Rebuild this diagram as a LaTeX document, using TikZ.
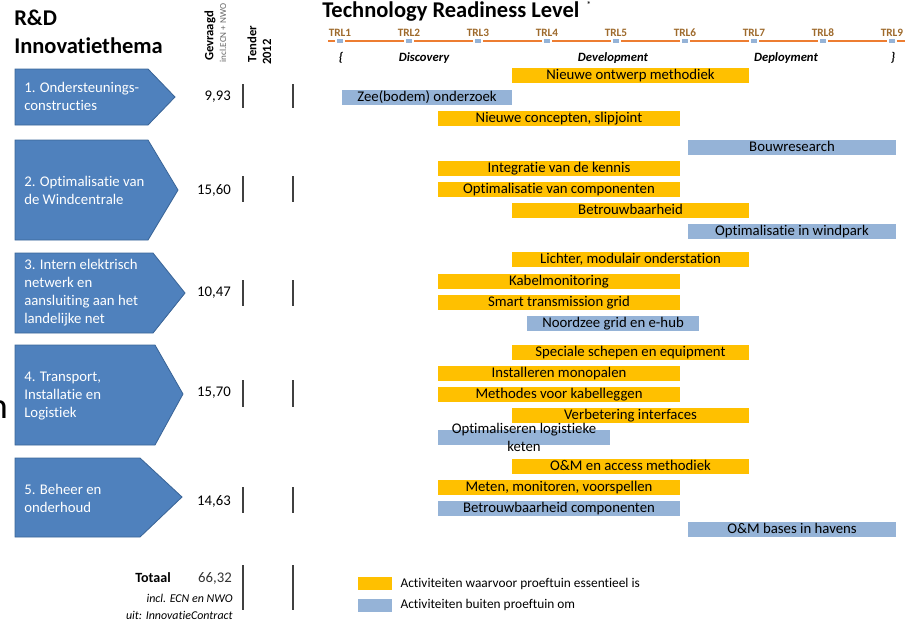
\documentclass[tikz,border=0pt]{standalone}
\usepackage{fontspec}
\setmainfont{Carlito}[Ligatures=NoCommon]
\usetikzlibrary{positioning}

\definecolor{geel}{HTML}{FFC000}
\definecolor{lichtblauw}{HTML}{95B3D7}
\definecolor{pijlblauw}{HTML}{4F81BD}
\definecolor{pijlrand}{HTML}{3A6598}
\definecolor{trloranje}{HTML}{ED7D31}
\definecolor{trltekst}{HTML}{9E6A2C}

\begin{document}
\begin{tikzpicture}[x=0.025cm,y=-0.025cm,
    balk/.style={minimum height=15*0.025cm, minimum width=#1*0.025cm, inner sep=0pt, text height=1.5ex, text depth=0.3ex, font=\fontsize{10.5}{12}\selectfont},
    geelbalk/.style={balk=#1, fill=geel},
    blauwbalk/.style={balk=#1, fill=lichtblauw},
    thema/.style={fill=pijlblauw, draw=pijlrand, line width=0.6pt},
    thematekst/.style={anchor=west, align=left, text=white, inner sep=0pt, font=\fontsize{10.5}{12.8}\selectfont},
    bedrag/.style={anchor=east, inner sep=0pt, font=\fontsize{10.5}{12}\selectfont},
    streep/.style={draw=black!75, line width=0.9pt},
    trl/.style={text=trltekst, inner sep=0pt, font=\fontsize{8}{9}\selectfont\bfseries},
    fase/.style={inner sep=0pt, font=\fontsize{9}{10}\selectfont\itshape\bfseries},
    legblok/.style={minimum width=34*0.025cm, minimum height=13*0.025cm, inner sep=0pt},
    legtekst/.style={anchor=west, inner sep=0pt, font=\fontsize{9.5}{11}\selectfont}]

    \useasboundingbox (0,0) rectangle (911,620);

    % koppen
    \node[anchor=west, align=left, inner sep=0pt, font=\fontsize{16}{20}\selectfont\bfseries] (kop) at (14,32) {R\&D\\Innovatiethema};
    \node[rotate=90, inner sep=0pt, font=\fontsize{9}{10}\selectfont\bfseries] (gevraagd) at (210,36) {Gevraagd};
    \node[rotate=90, inner sep=0pt, text=black!60, font=\fontsize{6.5}{7}\selectfont] (incl) at (223,33) {incl.ECN + NWO};
    \node[rotate=90, inner sep=0pt, font=\fontsize{9}{10}\selectfont\bfseries] (tender) at (252,44) {Tender};
    \node[rotate=90, inner sep=0pt, font=\fontsize{9}{10}\selectfont\bfseries] (jaar) at (267,52) {2012};
    \node[anchor=west, inner sep=0pt, font=\fontsize{16}{18}\selectfont\bfseries] (trlkop) at (322,12) {Technology Readiness Level};
    \node[anchor=west, inner sep=0pt, font=\fontsize{7}{8}\selectfont] (ster) at (586,5) {*};
    \node[anchor=base east, inner sep=0pt, font=\fontsize{26}{28}\selectfont] (losn) at (8,418) {n};

    % TRL-as
    \draw[trloranje, line width=1.4pt] (328,41) -- (905,41);
    \foreach \i in {1,...,9} {
        \fill[white] ({340+69*(\i-1)-5},38) rectangle ++(10,6);
        \fill[lichtblauw] ({340+69*(\i-1)-3},39) rectangle ++(6,4);
        \node[trl] (trl\i) at ({340+69*(\i-1)},33) {TRL\i};
    }
    \node[fase] (open) at (341,58) {\{};
    \node[fase] (discovery) at (424,58) {Discovery};
    \node[fase] (development) at (613,58) {Development};
    \node[fase] (deployment) at (786,58) {Deployment};
    \node[fase] (sluit) at (893,58) {\}};

    % thema's
    \draw[thema] (15,69) -- (148,69) -- (175,97) -- (148,125) -- (15,125) -- cycle;
    \draw[thema] (15,140) -- (148,140) -- (178,190) -- (148,240) -- (15,240) -- cycle;
    \draw[thema] (15,253) -- (153,253) -- (185,293) -- (153,333) -- (15,333) -- cycle;
    \draw[thema] (15,345) -- (155,345) -- (183,394) -- (155,445) -- (15,445) -- cycle;
    \draw[thema] (15,458) -- (140,458) -- (182,497) -- (140,537) -- (15,537) -- cycle;

    \node[thematekst] (t1) at (24,96) {1. Ondersteunings-\\constructies};
    \node[thematekst] (t2) at (24,190) {2. Optimalisatie van\\de Windcentrale};
    \node[thematekst] (t3) at (24,293) {3. Intern elektrisch\\netwerk en\\aansluiting aan het\\landelijke net};
    \node[thematekst] (t4) at (24,396) {4. Transport,\\Installatie en\\Logistiek};
    \node[thematekst] (t5) at (24,498) {5. Beheer en\\onderhoud};

    % bedragen
    \node[bedrag] (g1) at (231,97) {9,93};
    \node[bedrag] (g2) at (231,190) {15,60};
    \node[bedrag] (g3) at (231,293) {10,47};
    \node[bedrag] (g4) at (231,393) {15,70};
    \node[bedrag] (g5) at (231,501) {14,63};
    \node[bedrag, text=black!80] (totaal) at (232,578) {66,32};
    \node[bedrag, font=\fontsize{10}{12}\selectfont\bfseries] (totaaltekst) at (171,578) {Totaal};
    \node[bedrag, font=\fontsize{8.5}{10}\selectfont\itshape] (bron1) at (233,598) {incl. ECN en NWO};
    \node[bedrag, font=\fontsize{8.5}{10}\selectfont\itshape] (bron2) at (233,615) {uit: InnovatieContract};

    \foreach \a/\b in {84/108,176/202,280/306,380/407,487/513,565/610} {
        \draw[streep] (243,\a) -- (243,\b);
        \draw[streep] (293,\a) -- (293,\b);
    }

    % activiteiten
    \node[geelbalk=237] (b1) at (630.5,75) {Nieuwe ontwerp methodiek};
    \node[blauwbalk=170] (b2) at (427,97) {Zee(bodem) onderzoek};
    \node[geelbalk=242] (b3) at (559,118) {Nieuwe concepten, slipjoint};
    \node[blauwbalk=208] (b4) at (792,147) {Bouwresearch};
    \node[geelbalk=242] (b5) at (559,168) {Integratie van de kennis};
    \node[geelbalk=242] (b6) at (559,189) {Optimalisatie van componenten};
    \node[geelbalk=237] (b7) at (630.5,210) {Betrouwbaarheid};
    \node[blauwbalk=208] (b8) at (792,231) {Optimalisatie in windpark};
    \node[geelbalk=237] (b9) at (630.5,259) {Lichter, modulair onderstation};
    \node[geelbalk=242] (b10) at (559,281) {Kabelmonitoring};
    \node[geelbalk=242] (b11) at (559,302) {Smart transmission grid};
    \node[blauwbalk=172] (b12) at (613,323) {Noordzee grid en e-hub};
    \node[geelbalk=237] (b13) at (630.5,352) {Speciale schepen en equipment};
    \node[geelbalk=242] (b14) at (559,373) {Installeren monopalen};
    \node[geelbalk=242] (b15) at (559,394) {Methodes voor kabelleggen};
    \node[geelbalk=237] (b16) at (630.5,415) {Verbetering interfaces};
    \node[blauwbalk=172] (b17) at (524,437) {};
    \node[align=center, inner sep=0pt, font=\fontsize{10.5}{12.8}\selectfont] (b17tekst) at (524,437) {Optimaliseren logistieke\\keten};
    \node[geelbalk=237] (b18) at (630.5,466) {O\&M en access methodiek};
    \node[geelbalk=242] (b19) at (559,487) {Meten, monitoren, voorspellen};
    \node[blauwbalk=242] (b20) at (559,508) {Betrouwbaarheid componenten};
    \node[blauwbalk=208] (b21) at (792,529) {O\&M bases in havens};

    % legenda
    \node[legblok, fill=geel] (lg1) at (375,583.5) {};
    \node[legblok, fill=lichtblauw] (lg2) at (375,605) {};
    \node[legtekst, right=0.2cm of lg1] (lt1) {Activiteiten waarvoor proeftuin essentieel is};
    \node[legtekst, right=0.2cm of lg2] (lt2) {Activiteiten buiten proeftuin om};
\end{tikzpicture}
\end{document}
